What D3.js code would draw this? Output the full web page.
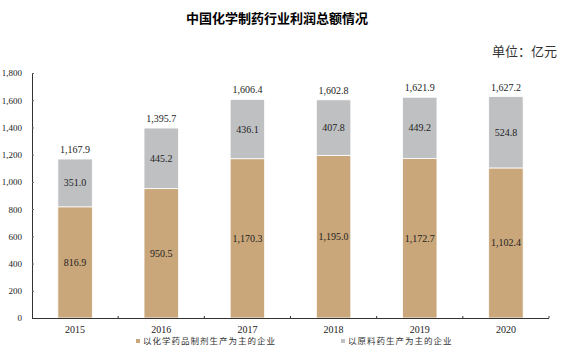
<!DOCTYPE html>
<html>
<head>
<meta charset="utf-8">
<script src="https://cdn.jsdelivr.net/npm/d3@7"></script>
<style>
  body { margin: 0; background: #fff; }
  svg { display: block; }
</style>
</head>
<body>
<svg></svg>
<script>
let years = ['2015', '2016', '2017', '2018', '2019', '2020']
let preparation = [816.9, 950.5, 1170.3, 1195.0, 1172.7, 1102.4]
let rawMaterial = [351.0, 445.2, 436.1, 407.8, 449.2, 524.8]
let totals = [1167.9, 1395.7, 1606.4, 1602.8, 1621.9, 1627.2]
let seriesNames = ['以化学药品制剂生产为主的企业', '以原料药生产为主的企业']
let yTicks = [0, 200, 400, 600, 800, 1000, 1200, 1400, 1600, 1800]

let width = 563
let height = 354
let colors = ['#c9a77a', '#bfc0c2']
let numFont = '"Liberation Serif", "Times New Roman", serif'
let cjkFont = '"Noto Sans CJK SC", sans-serif'

let svg = d3.select('svg')
            .attr('width', width)
            .attr('height', height)

let x = d3.scaleBand()
          .domain(years)
          .range([32, 549])
          .paddingInner(0.6)
          .paddingOuter(0.3)

let y = d3.scaleLinear()
          .domain([0, 1800])
          .range([318, 73])

// title and unit
svg.append('text')
    .attr('x', 277)
    .attr('y', 23)
    .attr('text-anchor', 'middle')
    .attr('font-family', cjkFont)
    .attr('font-weight', 'bold')
    .attr('font-size', 13)
    .text('中国化学制药行业利润总额情况')

svg.append('text')
    .attr('x', 557)
    .attr('y', 56)
    .attr('text-anchor', 'end')
    .attr('font-family', cjkFont)
    .attr('font-size', 13)
    .attr('fill', '#333')
    .text('单位：亿元')

// stacked bars
let rows = years.map((yr, i) => ({ year: yr, prep: preparation[i], raw: rawMaterial[i], total: totals[i] }))
let stack = d3.stack().keys(['prep', 'raw'])
let layers = stack(rows)

let layer = svg.selectAll('g.layer')
    .data(layers)
    .enter()
    .append('g')
    .attr('class', 'layer')
    .attr('fill', (d, i) => colors[i])

layer.selectAll('rect')
    .data(d => d)
    .enter()
    .append('rect')
    .attr('x', d => x(d.data.year))
    .attr('width', x.bandwidth())
    .attr('y', d => y(d[1]))
    .attr('height', d => y(d[0]) - y(d[1]))
    .attr('stroke', '#fff')
    .attr('stroke-width', 0.8)

layer.selectAll('text')
    .data(d => d)
    .enter()
    .append('text')
    .attr('x', d => x(d.data.year) + x.bandwidth() / 2)
    .attr('y', d => (y(d[0]) + y(d[1])) / 2 + 3.5)
    .attr('text-anchor', 'middle')
    .attr('font-family', numFont)
    .attr('font-size', 10)
    .attr('fill', '#222')
    .text(d => d3.format(',.1f')(d[1] - d[0]))

// totals
svg.selectAll('text.total')
    .data(rows)
    .enter()
    .append('text')
    .attr('class', 'total')
    .attr('x', d => x(d.year) + x.bandwidth() / 2)
    .attr('y', d => y(d.total) - 6)
    .attr('text-anchor', 'middle')
    .attr('font-family', numFont)
    .attr('font-size', 10)
    .attr('fill', '#222')
    .text(d => d3.format(',.1f')(d.total))

// y axis
let yAxis = svg.append('g')
    .attr('transform', 'translate(32,0)')
    .call(d3.axisLeft(y).tickValues(yTicks).tickSize(-2).tickPadding(10).tickFormat(d3.format(',')))
yAxis.selectAll('text')
    .attr('font-family', numFont)
    .attr('font-size', 9)
    .attr('fill', '#222')
    .attr('text-anchor', 'end')
yAxis.select('.domain').attr('stroke', '#333').attr('d', 'M0.5,73V318.5')
yAxis.selectAll('.tick line').attr('stroke', '#666')

// x axis
let xAxis = svg.append('g')
    .attr('transform', 'translate(0,318)')
    .call(d3.axisBottom(x).tickSize(0).tickPadding(8))
xAxis.select('.domain').attr('stroke', '#333').attr('d', 'M32,0.5H549')
xAxis.selectAll('text')
    .attr('font-family', numFont)
    .attr('font-size', 10)
    .attr('fill', '#222')

// small ticks between categories
svg.selectAll('line.xtick')
    .data(d3.range(1, years.length + 1))
    .enter()
    .append('line')
    .attr('class', 'xtick')
    .attr('x1', i => 32 + i * x.step())
    .attr('x2', i => 32 + i * x.step())
    .attr('y1', 318)
    .attr('y2', 316)
    .attr('stroke', '#333')

// legend
let legendX = [136, 341]
let legend = svg.selectAll('g.legend')
    .data(seriesNames)
    .enter()
    .append('g')
    .attr('class', 'legend')
    .attr('transform', (d, i) => `translate(${legendX[i]},344)`)

legend.append('rect')
    .attr('x', 0)
    .attr('y', -5)
    .attr('width', 4)
    .attr('height', 4)
    .attr('fill', (d, i) => colors[i])

legend.append('text')
    .attr('x', 7)
    .attr('y', 0)
    .attr('font-family', cjkFont)
    .attr('font-size', 8.5)
    .attr('fill', '#333')
    .attr('letter-spacing', 1)
    .text(d => d)
</script>
</body>
</html>
